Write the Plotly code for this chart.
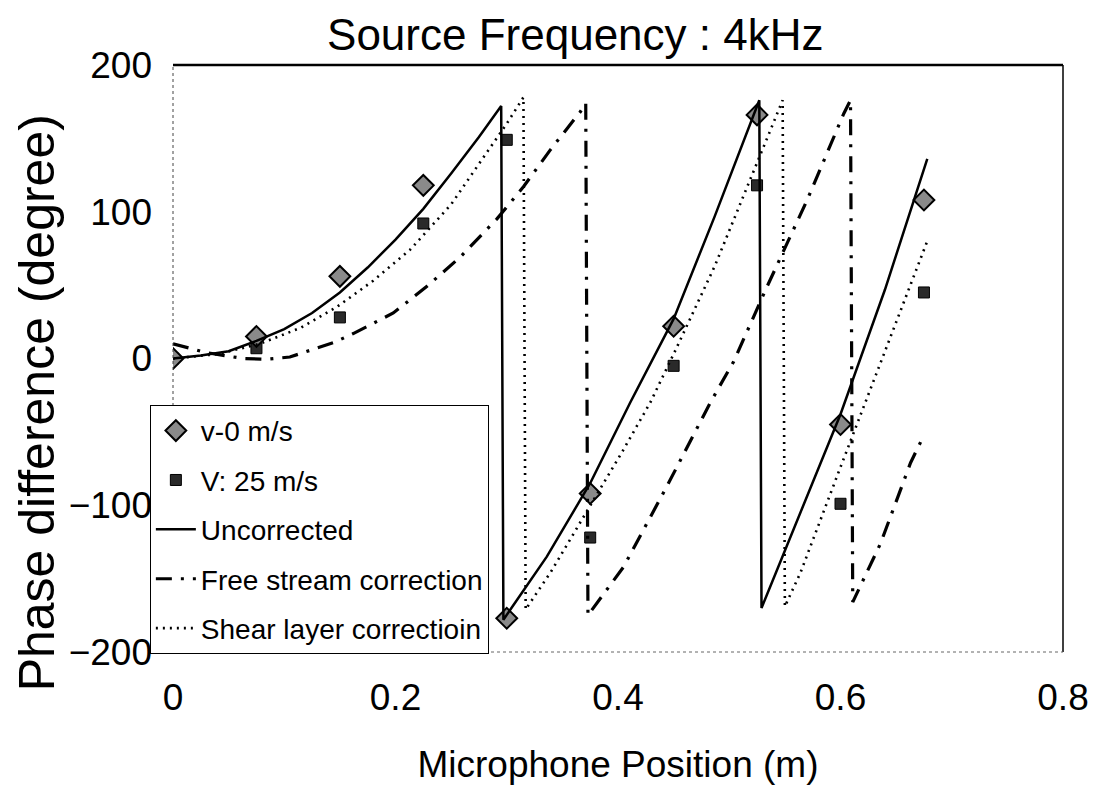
import plotly.graph_objects as go

mic_x = [0, 0.075, 0.15, 0.225, 0.3, 0.375, 0.45, 0.525, 0.6, 0.675]
v0_phase = [0, 15, 56, 118, -177, -92, 22, 166, -45, 108]
v25_phase = [0, 7, 28, 92, 149, -122, -5, 118, -99, 45]

# Uncorrected prediction (solid)
unc_x = [0, 0.025, 0.05, 0.075, 0.1, 0.125, 0.15, 0.175, 0.2, 0.225, 0.25, 0.275, 0.295,
         0.297, 0.336, 0.375, 0.411, 0.45, 0.487, 0.527,
         0.529, 0.564, 0.6, 0.64, 0.678]
unc_y = [0, 2, 5, 12, 20, 31, 45, 62, 81, 102, 126, 151, 172,
         -178, -135, -85, -30, 27, 97, 176,
         -170, -105, -38, 47, 136]

# Free stream correction (dash-dot)
free_x = [0, 0.03, 0.063, 0.084, 0.105, 0.125, 0.145, 0.162, 0.198, 0.228, 0.258, 0.291,
          0.315, 0.339, 0.366, 0.371,
          0.373, 0.405, 0.444, 0.483, 0.504, 0.534, 0.57, 0.603, 0.609,
          0.611, 0.636, 0.663, 0.672]
free_y = [10, 4, 0, -0.5, 1, 6, 11, 17, 31, 49, 69, 95,
          117, 142, 168, 174,
          -175, -142, -87, -30, -2, 49, 108, 167, 176,
          -166, -126, -71, -57]

# Shear layer correction (dotted)
shear_x = [0, 0.04, 0.078, 0.115, 0.147, 0.18, 0.213, 0.25, 0.279, 0.3, 0.315,
           0.317, 0.34, 0.366, 0.405, 0.429, 0.45, 0.487, 0.525, 0.548,
           0.550, 0.564, 0.6, 0.64, 0.678]
shear_y = [0, 3, 10, 21, 35, 53, 74, 105, 137, 160, 178,
           -171, -145, -112, -62, -30, 3, 63, 133, 176,
           -169, -146, -74, 5, 80]

x_ticks = [0, 0.2, 0.4, 0.6, 0.8]
x_tick_text = ["0", "0.2", "0.4", "0.6", "0.8"]
y_ticks = [-200, -100, 0, 100, 200]

FONT = "Liberation Sans, Arial, sans-serif"

fig = go.Figure()

fig.add_trace(go.Scatter(
    x=mic_x, y=v25_phase, mode="markers", name="V: 25 m/s", legendrank=2,
    legendgroup="b",
    marker=dict(symbol="square", size=11, color="#2a2a2a",
                line=dict(color="black", width=1))))
fig.add_trace(go.Scatter(
    x=mic_x, y=v0_phase, mode="markers", name="v-0 m/s", legendrank=1,
    legendgroup="a",
    marker=dict(symbol="diamond", size=16, color="#8a8a8a",
                line=dict(color="black", width=2))))
fig.add_trace(go.Scatter(
    x=unc_x, y=unc_y, mode="lines", name="Uncorrected", legendrank=3,
    legendgroup="c",
    line=dict(color="black", width=2.5)))
fig.add_trace(go.Scatter(
    x=free_x, y=free_y, mode="lines", name="Free stream correction", legendrank=4,
    legendgroup="d",
    line=dict(color="black", width=3.2, dash="16px,9px,3px,9px")))
fig.add_trace(go.Scatter(
    x=shear_x, y=shear_y, mode="lines", name="Shear layer correctioin", legendrank=5,
    legendgroup="e",
    line=dict(color="black", width=2.6, dash="2px,5px")))

fig.update_layout(
    width=1110, height=791,
    paper_bgcolor="white", plot_bgcolor="white",
    margin=dict(l=165, r=55, t=57, b=147, autoexpand=False),
    font=dict(family=FONT, color="black"),
    title=dict(text="Source Frequency : 4kHz", font=dict(size=44, family=FONT),
               x=0.452, xref="paper", xanchor="center",
               y=0.966, yref="container", yanchor="middle"),
    showlegend=True,
    legend=dict(x=-0.026, y=0.421, xanchor="left", yanchor="top",
                bgcolor="white", bordercolor="black", borderwidth=1,
                font=dict(size=28, family=FONT), tracegroupgap=10,
                itemwidth=40),
)

fig.update_xaxes(range=[0, 0.8], tickvals=x_ticks, ticktext=x_tick_text,
                 showgrid=False, zeroline=False, showline=False, ticks="", automargin=False,
                 tickfont=dict(size=37, family=FONT), ticklabelstandoff=20,
                 title=dict(text="Microphone Position (m)", font=dict(size=37, family=FONT),
                            standoff=34))
fig.update_yaxes(range=[-200, 200], tickvals=y_ticks,
                 showgrid=False, zeroline=False, showline=False, ticks="", automargin=False,
                 tickfont=dict(size=37, family=FONT), ticklabelstandoff=20)

# y-axis title placed as rotated annotation
fig.add_annotation(text="Phase difference (degree)", xref="paper", yref="paper",
                   x=-0.153, y=0.425, xanchor="center", yanchor="middle",
                   textangle=-90, showarrow=False,
                   font=dict(size=50, family=FONT))

# frame
fig.add_shape(type="line", xref="paper", yref="paper", x0=0, x1=1, y0=1, y1=1,
              line=dict(color="black", width=2.5))
fig.add_shape(type="line", xref="paper", yref="paper", x0=1, x1=1, y0=0, y1=1,
              line=dict(color="black", width=1.5))
fig.add_shape(type="line", xref="paper", yref="paper", x0=0, x1=0, y0=0, y1=1,
              line=dict(color="#444", width=1, dash="dot"))
fig.add_shape(type="line", xref="paper", yref="paper", x0=0, x1=1, y0=0, y1=0,
              line=dict(color="#666", width=1, dash="dot"))

fig.write_html("out.html")
